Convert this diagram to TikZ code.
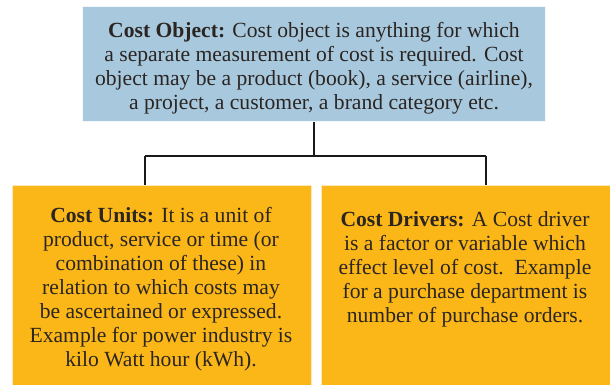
\documentclass[tikz,border=0pt]{standalone}
\usepackage{fontspec}
\setmainfont{Liberation Serif}
\definecolor{blueboxc}{HTML}{A8C8DE}
\definecolor{orangeboxc}{HTML}{FBB718}
\definecolor{txtc}{HTML}{2B2522}
\begin{document}
\begin{tikzpicture}[x=1pt,y=-1pt,
  boxbase/.style={inner sep=0pt, outer sep=0pt, anchor=north west},
  bluebox/.style={boxbase, fill=blueboxc, draw=white!85!blueboxc, line width=1pt},
  orangebox/.style={boxbase, fill=orangeboxc, draw=white!70!orangeboxc, line width=1pt},
  txt/.style={align=center, text=txtc, font=\fontsize{21.6}{24}\selectfont, inner sep=0pt},
  conn/.style={draw=black!90, line width=1.2pt}]
\useasboundingbox (0,0) rectangle (610,385);
\node[bluebox, minimum width=463pt, minimum height=115pt] (top) at (82,7) {};
\node[orangebox, minimum width=299pt, minimum height=202pt] (lbox) at (12,185) {};
\node[orangebox, minimum width=291pt, minimum height=202pt] (rbox) at (321,185) {};
\node[txt] (toptxt) at (314,68) {\textbf{Cost Object:} Cost object is anything for which\\
a separate measurement of cost is required. Cost\\
object may be a product (book), a service (airline),\\
a project, a customer, a brand category etc.};
\node[txt] (ltxt) at (161,289.5) {\textbf{Cost Units:} It is a unit of\\
product, service or time (or\\
combination of these) in\\
relation to which costs may\\
be ascertained or expressed.\\
Example for power industry is\\
kilo Watt hour (kWh).};
\node[txt] (rtxt) at (465,269.5) {\textbf{Cost Drivers:} A Cost driver\\
is a factor or variable which\\
effect level of cost.\ \ Example\\
for a purchase department is\\
number of purchase orders.};
\coordinate (j) at (314,156);
\coordinate (jl) at (145,156);
\coordinate (jr) at (486,156);
\draw[conn] (top.south -| j) -- (j);
\draw[conn] (jl) -- (jr);
\draw[conn] (jl) -- (jl |- lbox.north);
\draw[conn] (jr) -- (jr |- rbox.north);
\end{tikzpicture}
\end{document}
